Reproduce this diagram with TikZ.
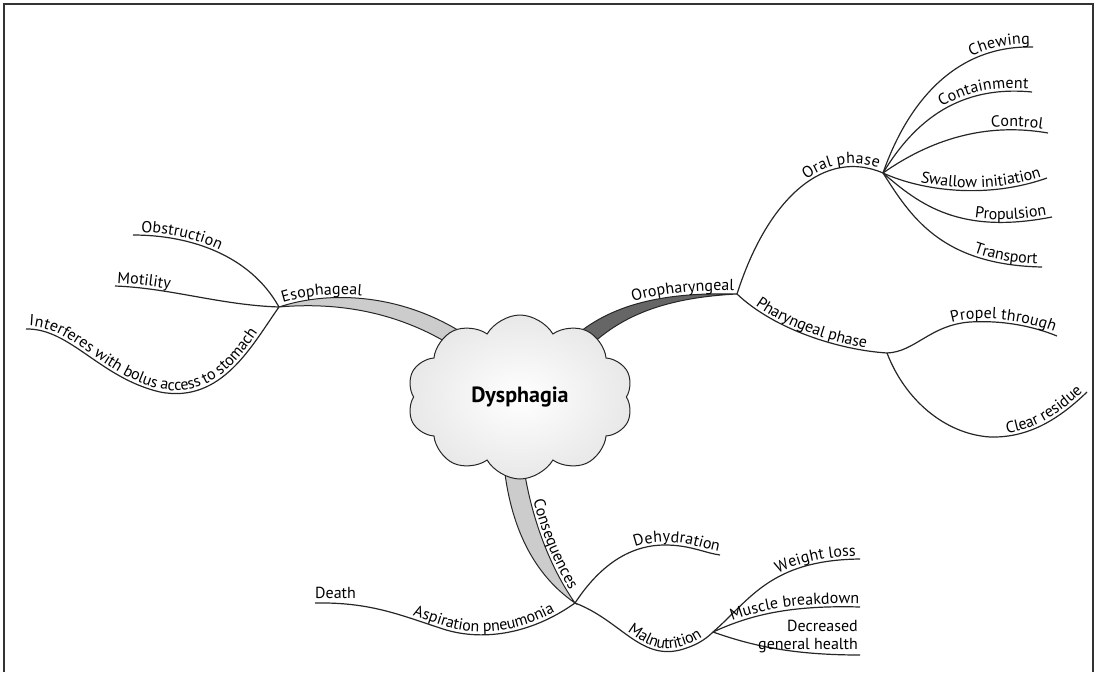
\documentclass[tikz,border=0pt]{standalone}
\usepackage{fontspec}
\setmainfont{PT Sans}
\usetikzlibrary{shapes.symbols,decorations.text}

\tikzset{
  branch/.style={line width=1.2pt, draw=black!85},
  lbl/.style 2 args={postaction={decorate, decoration={text along path, text={#1}, text align={#2}, raise=3pt}}},
  lightband/.style={draw=black!85, line width=1pt, fill=black!20},
  darkband/.style={draw=black!85, line width=1pt, fill=black!60},
  cloudbox/.style={cloud, cloud puffs=10, cloud puff arc=120, cloud ignores aspect,
    minimum width=226pt, minimum height=164pt, draw=black!85, line width=1pt,
    inner color=white, outer color=black!9, font=\fontsize{22}{26}\selectfont\bfseries},
}

\begin{document}
\begin{tikzpicture}[x=1pt, y=-1pt, font=\fontsize{16}{18}\selectfont]
\fontsize{16}{18}\selectfont
\useasboundingbox (0,0) rectangle (1097,672);

% frame, open at the bottom
\draw[line width=2pt, black!80] (4,672) -- (4,4) -- (1093,4) -- (1093,672);

% hubs
\coordinate (esoph) at (279,307);
\coordinate (oro) at (737,294);
\coordinate (oral) at (883,173);
\coordinate (phar) at (887,353);
\coordinate (conseq) at (575,603);
\coordinate (malnut) at (713,632);

% leaf ends
\coordinate (obstr) at (133,235);
\coordinate (motil) at (115,286);
\coordinate (interf) at (26,329);
\coordinate (chew) at (1033,47);
\coordinate (contain) at (1032,92);
\coordinate (control) at (1048,133);
\coordinate (swallow) at (1047,178);
\coordinate (propul) at (1052,217);
\coordinate (transp) at (1042,267);
\coordinate (propel) at (1057,336);
\coordinate (clear) at (1087,392);
\coordinate (death) at (315,603);
\coordinate (dehyd) at (720,555);
\coordinate (weight) at (860,559);
\coordinate (muscle) at (860,607);
\coordinate (decr) at (860,655);

% main bands (under the cloud)
\draw[lightband] (esoph) .. controls (330,290) and (410,292) .. (480,345)
  -- (470,358) .. controls (405,310) and (335,302) .. (esoph);
\path[lbl={Esophageal}{left indent=5pt}] (esoph) .. controls (330,290) and (410,292) .. (480,345);

\draw[darkband] (565,345) .. controls (605,305) and (660,292) .. (oro)
  .. controls (660,298) and (615,318) .. (580,356) -- cycle;
\path[lbl={Oropharyngeal}{right, right indent=3pt}] (565,345) .. controls (605,305) and (660,292) .. (oro);

\draw[lightband] (503,455) .. controls (508,520) and (530,572) .. (conseq)
  .. controls (545,560) and (528,505) .. (522,455) -- cycle;
\path[lbl={Consequences}{right, right indent=14pt}] (522,455) .. controls (528,505) and (545,560) .. (conseq);

% centre
\node[cloudbox] (dys) at (520,397) {Dysphagia};

% Esophageal
\draw[branch, lbl={Obstruction}{left indent=8pt}] (obstr) .. controls (190,235) and (250,255) .. (esoph);
\draw[branch, lbl={Motility}{left indent=2pt}] (motil) .. controls (170,288) and (220,305) .. (esoph);
\draw[branch, lbl={Interferes with bolus access to stomach}{left indent=3pt}] (interf)
  .. controls (70,328) and (100,378) .. (160,392) .. controls (222,404) and (252,345) .. (esoph);

% Oropharyngeal
\draw[branch, lbl={Oral phase}{right, right indent=6pt}] (oro) .. controls (768,197) and (825,148) .. (oral);
\draw[branch, lbl={Chewing}{right, right indent=3pt}] (oral) .. controls (905,110) and (950,45) .. (chew);
\draw[branch, lbl={Containment}{right, right indent=4pt}] (oral) .. controls (915,120) and (960,85) .. (contain);
\draw[branch, lbl={Control}{right, right indent=6pt}] (oral) .. controls (930,140) and (985,122) .. (control);
\draw[branch, lbl={Swallow initiation}{right, right indent=5pt}] (oral) .. controls (920,190) and (985,200) .. (swallow);
\draw[branch, lbl={Propulsion}{right, right indent=5pt}] (oral) .. controls (920,205) and (960,235) .. (propul);
\draw[branch, lbl={Transport}{right, right indent=5pt}] (oral) .. controls (910,215) and (940,265) .. (transp);

\draw[branch, lbl={Pharyngeal phase}{center}] (oro) .. controls (775,330) and (840,350) .. (phar);
\draw[branch, lbl={Propel through}{right, right indent=4pt}] (phar)
  .. controls (915,352) and (930,325) .. (970,322) .. controls (1005,320) and (1035,327) .. (propel);
\draw[branch, lbl={Clear residue}{right, right indent=3pt}] (phar)
  .. controls (905,400) and (945,434) .. (990,437) .. controls (1028,438) and (1058,420) .. (clear);

% Consequences
\draw[branch, lbl={Aspiration pneumonia}{right, right indent=22pt}] (death)
  .. controls (370,602) and (400,615) .. (440,628) .. controls (480,642) and (530,635) .. (conseq);
\node[anchor=base west, yshift=5pt, inner sep=0pt, text=black] (deathlbl) at (death) {Death};
\draw[branch, lbl={Dehydration}{right, right indent=2pt}] (conseq)
  .. controls (600,565) and (630,545) .. (665,545) .. controls (690,545) and (705,553) .. (dehyd);
\draw[branch, lbl={Malnutrition}{right, right indent=12pt}] (conseq)
  .. controls (620,620) and (640,660) .. (680,650) .. controls (695,646) and (705,640) .. (malnut);
\draw[branch, lbl={Weight loss}{right, right indent=4pt}] (malnut) .. controls (750,600) and (770,560) .. (weight);
\draw[branch, lbl={Muscle breakdown}{right, right indent=1pt}] (malnut) .. controls (750,615) and (790,605) .. (muscle);
\draw[branch] (malnut) .. controls (750,645) and (790,655) .. (decr);
\node[anchor=south east, align=right, inner sep=2pt] (decrlbl) at (decr) {Decreased\\general health};
\end{tikzpicture}
\end{document}
